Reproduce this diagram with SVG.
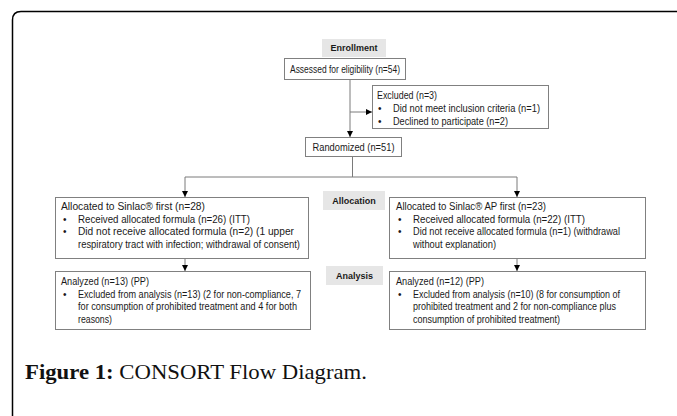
<svg xmlns="http://www.w3.org/2000/svg" width="677" height="416" viewBox="0 0 677 416">
<style>
.t{font-family:"Liberation Sans",Arial,sans-serif;font-size:10px;fill:#1a1a1a}
.b{font-family:"Liberation Sans",Arial,sans-serif;font-size:9px;font-weight:bold;fill:#1a1a1a}
.box{fill:#fff;stroke:#808080;stroke-width:1}
.lbl{fill:#e6e6e6}
.c{stroke:#7a7a7a;stroke-width:1;fill:none}
</style>
<defs>
<marker id="ah" viewBox="0 0 10 10" refX="10" refY="5" markerWidth="6" markerHeight="6" orient="auto" markerUnits="userSpaceOnUse">
<path d="M0,0 L10,5 L0,10 z" fill="#000"/>
</marker>
</defs>
<rect width="677" height="416" fill="#fff"/>
<path d="M12.5 416 V20 Q12.5 11.5 21 11.5 H677" fill="none" stroke="#000" stroke-width="1.5"/>

<g id="connectors">
<path class="c" d="M350 79 V137" marker-end="url(#ah)"/>
<path class="c" d="M350 112 H372" marker-end="url(#ah)"/>
<path class="c" d="M352.5 156 V177 M185 177 H517"/>
<path class="c" d="M185 177 V197" marker-end="url(#ah)"/>
<path class="c" d="M517 177 V197" marker-end="url(#ah)"/>
<path class="c" d="M185 258 V271" marker-end="url(#ah)"/>
<path class="c" d="M517 258 V271" marker-end="url(#ah)"/>
</g>

<g id="enrollment-label">
<rect class="lbl" x="322" y="39" width="64" height="18"/>
<text class="b" x="354" y="51" text-anchor="middle">Enrollment</text>
</g>
<g id="assessed">
<rect class="box" x="284.5" y="58.5" width="121" height="21"/>
<text class="t" x="345" y="72.5" text-anchor="middle" textLength="110" lengthAdjust="spacingAndGlyphs">Assessed for eligibility (n=54)</text>
</g>
<g id="excluded">
<rect class="box" x="372.5" y="85.5" width="176" height="43"/>
<text class="t" x="377" y="99" textLength="60" lengthAdjust="spacingAndGlyphs">Excluded (n=3)</text>
<text class="t" x="378" y="112">•</text><text class="t" x="393" y="112" textLength="147" lengthAdjust="spacingAndGlyphs">Did not meet inclusion criteria (n=1)</text>
<text class="t" x="378" y="124.5">•</text><text class="t" x="393" y="124.5" textLength="115" lengthAdjust="spacingAndGlyphs">Declined to participate (n=2)</text>
</g>
<g id="randomized">
<rect class="box" x="305.5" y="137.5" width="96" height="19"/>
<text class="t" x="353.5" y="150.5" text-anchor="middle" textLength="82" lengthAdjust="spacingAndGlyphs">Randomized (n=51)</text>
</g>
<g id="allocation-label">
<rect class="lbl" x="323" y="191" width="62" height="19"/>
<text class="b" x="354" y="204" text-anchor="middle">Allocation</text>
</g>
<g id="alloc-left">
<rect class="box" x="55.5" y="197.5" width="253" height="61"/>
<text class="t" x="61" y="210" textLength="144" lengthAdjust="spacingAndGlyphs">Allocated to Sinlac® first (n=28)</text>
<text class="t" x="63" y="222.5">•</text><text class="t" x="78" y="222.5" textLength="172" lengthAdjust="spacingAndGlyphs">Received allocated formula (n=26) (ITT)</text>
<text class="t" x="63" y="235">•</text><text class="t" x="78" y="235" textLength="216" lengthAdjust="spacingAndGlyphs">Did not receive allocated formula (n=2) (1 upper</text>
<text class="t" x="78" y="247.5" textLength="222" lengthAdjust="spacingAndGlyphs">respiratory tract with infection; withdrawal of consent)</text>
</g>
<g id="alloc-right">
<rect class="box" x="389.5" y="197.5" width="256" height="61"/>
<text class="t" x="396" y="210" textLength="150" lengthAdjust="spacingAndGlyphs">Allocated to Sinlac® AP first (n=23)</text>
<text class="t" x="398" y="222.5">•</text><text class="t" x="413" y="222.5" textLength="172" lengthAdjust="spacingAndGlyphs">Received allocated formula (n=22) (ITT)</text>
<text class="t" x="398" y="235">•</text><text class="t" x="413" y="235" textLength="207" lengthAdjust="spacingAndGlyphs">Did not receive allocated formula (n=1) (withdrawal</text>
<text class="t" x="413" y="247.5" textLength="83" lengthAdjust="spacingAndGlyphs">without explanation)</text>
</g>
<g id="analysis-label">
<rect class="lbl" x="326" y="266" width="57" height="19"/>
<text class="b" x="354.5" y="279" text-anchor="middle">Analysis</text>
</g>
<g id="analysis-left">
<rect class="box" x="55.5" y="271.5" width="255" height="58"/>
<text class="t" x="61" y="285" textLength="88" lengthAdjust="spacingAndGlyphs">Analyzed (n=13) (PP)</text>
<text class="t" x="63" y="297.5">•</text><text class="t" x="78" y="297.5" textLength="223" lengthAdjust="spacingAndGlyphs">Excluded from analysis (n=13) (2 for non-compliance, 7</text>
<text class="t" x="78" y="310" textLength="219" lengthAdjust="spacingAndGlyphs">for consumption of prohibited treatment and 4 for both</text>
<text class="t" x="78" y="322.5" textLength="34" lengthAdjust="spacingAndGlyphs">reasons)</text>
</g>
<g id="analysis-right">
<rect class="box" x="389.5" y="271.5" width="256" height="58"/>
<text class="t" x="396" y="285" textLength="88" lengthAdjust="spacingAndGlyphs">Analyzed (n=12) (PP)</text>
<text class="t" x="398" y="297.5">•</text><text class="t" x="413" y="297.5" textLength="207" lengthAdjust="spacingAndGlyphs">Excluded from analysis (n=10) (8 for consumption of</text>
<text class="t" x="413" y="310" textLength="203" lengthAdjust="spacingAndGlyphs">prohibited treatment and 2 for non-compliance plus</text>
<text class="t" x="413" y="322.5" textLength="147" lengthAdjust="spacingAndGlyphs">consumption of prohibited treatment)</text>
</g>

<text x="25" y="379" font-family="'Liberation Serif','Times New Roman',serif" font-size="22" fill="#111" textLength="342" lengthAdjust="spacingAndGlyphs"><tspan font-weight="bold">Figure 1:</tspan> CONSORT Flow Diagram.</text>
</svg>
